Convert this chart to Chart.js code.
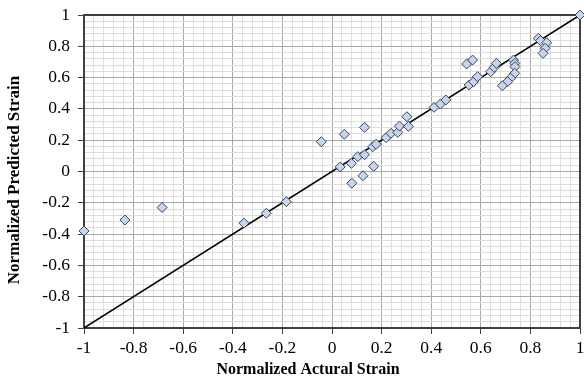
<!DOCTYPE html>
<html>
<head>
<meta charset="utf-8">
<script src="https://cdn.jsdelivr.net/npm/chart.js@4/dist/chart.umd.min.js"></script>
<style>
  html, body { margin: 0; padding: 0; background: #fff; }
  #wrap { width: 584px; height: 383px; overflow: hidden; }
</style>
</head>
<body>
<div id="wrap"><canvas id="strain-chart" width="586" height="383"></canvas></div>
<script>
const actual = [
  -1, -0.835, -0.685, -0.355, -0.265, -0.184,
  -0.043, 0.05, 0.131, 0.033, 0.078, 0.104, 0.131, 0.08, 0.125, 0.168,
  0.164, 0.178, 0.218, 0.238, 0.265, 0.272, 0.308, 0.302,
  0.412, 0.437, 0.459, 0.543, 0.567, 0.553, 0.571, 0.587,
  0.64, 0.654, 0.663, 0.732, 0.737, 0.738, 0.737, 0.72, 0.708, 0.687,
  0.832, 0.841, 0.866, 0.859, 0.851, 1
];
const predicted = [
  -0.38, -0.31, -0.23, -0.33, -0.267, -0.193,
  0.19, 0.238, 0.282, 0.029, 0.052, 0.095, 0.107, -0.075, -0.027, 0.033,
  0.158, 0.174, 0.216, 0.244, 0.25, 0.29, 0.288, 0.35,
  0.41, 0.431, 0.457, 0.687, 0.712, 0.553, 0.574, 0.606,
  0.638, 0.665, 0.691, 0.712, 0.691, 0.67, 0.627, 0.596, 0.574, 0.548,
  0.851, 0.836, 0.823, 0.787, 0.755, 1
];
// the y = x reference line
const lineX = [-1, 1];
const lineY = [-1, 1];

const xTitle = 'Normalized Actural Strain';
const yTitle = 'Normalized Predicted Strain';

const axisMin = -1;
const axisMax = 1;
const minorStep = 0.04;

function isMajor(v) {
  return Math.abs(v * 5 - Math.round(v * 5)) < 1e-6;
}

function tickLabel(v) {
  if (!isMajor(v)) return '';
  return String(Math.round(v * 5) / 5);
}

// dark frame round the plot area (under the markers), and the two axis titles
// placed like the original, a bit off centre
const frame = {
  id: 'frame',
  beforeDatasetsDraw(chart) {
    const a = chart.chartArea;
    const c = chart.ctx;
    c.save();
    c.strokeStyle = '#404040';
    c.lineWidth = 2;
    c.strokeRect(a.left, a.top, a.right - a.left, a.bottom - a.top);
    c.restore();
  },
  afterDraw(chart) {
    const c = chart.ctx;
    c.save();
    c.fillStyle = '#000';
    c.textAlign = 'center';
    c.textBaseline = 'middle';
    c.font = 'bold 16px "Liberation Serif"';
    c.fillText(xTitle, 308, 370);
    c.translate(15, 180);
    c.rotate(-Math.PI / 2);
    c.font = 'bold 17px "Liberation Serif"';
    c.fillText(yTitle, 0, 0);
    c.restore();
  }
};

function makeScale(isX) {
  return {
    type: 'linear',
    min: axisMin,
    max: axisMax,
    afterFit: function (scale) {
      if (isX) {
        scale.height = 55;
        scale.paddingLeft = 0;
        scale.paddingRight = 0;
      } else {
        scale.width = 84;
        scale.paddingTop = 0;
        scale.paddingBottom = 0;
      }
    },
    border: { display: true, color: '#404040', width: 2 },
    grid: {
      color: (ctx) => isMajor(ctx.tick.value) ? '#a9a9a9' : '#dedede',
      tickColor: (ctx) => isMajor(ctx.tick.value) ? '#404040' : 'rgba(0,0,0,0)',
      tickLength: 6,
      lineWidth: 1
    },
    ticks: {
      stepSize: minorStep,
      autoSkip: false,
      maxRotation: 0,
      padding: isX ? 4 : 8,
      color: '#000',
      font: { family: 'Liberation Serif', size: 17.5 },
      callback: (v) => tickLabel(v)
    },
    title: { display: false }
  };
}

const ctx = document.getElementById('strain-chart');
new Chart(ctx, {
  type: 'scatter',
  data: {
    datasets: [
      {
        label: 'Strain',
        data: actual.map((x, i) => ({ x: x, y: predicted[i] })),
        pointStyle: 'rectRot',
        pointRadius: 5,
        pointBackgroundColor: '#c6d5ef',
        pointBorderColor: '#3c4452',
        pointBorderWidth: 1,
        clip: false,
        order: 1
      },
      {
        type: 'line',
        label: 'Line',
        data: lineX.map((x, i) => ({ x: x, y: lineY[i] })),
        borderColor: '#000',
        borderWidth: 1.5,
        pointRadius: 0,
        fill: false,
        order: 2
      }
    ]
  },
  options: {
    responsive: false,
    animation: false,
    layout: { padding: { top: 15, right: 0, left: 0, bottom: 0 } },
    plugins: {
      legend: { display: false },
      tooltip: { enabled: false }
    },
    scales: {
      x: makeScale(true),
      y: makeScale(false)
    }
  },
  plugins: [frame]
});
</script>
</body>
</html>
